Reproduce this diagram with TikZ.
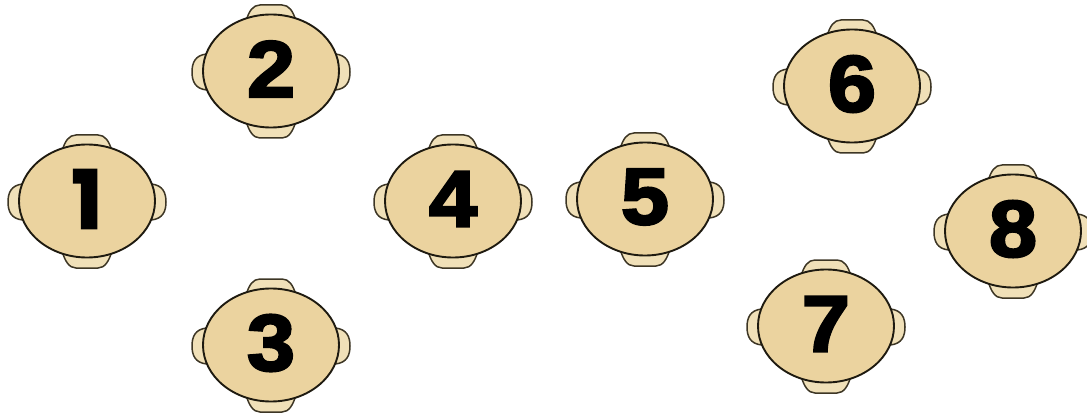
\documentclass[tikz,border=0pt]{standalone}
\usepackage{fontspec}
\usetikzlibrary{shapes.geometric}
\newfontfamily\digitfont[FakeBold=3,FakeStretch=1.08]{Liberation Sans Bold}
\newfontfamily\onefont[FakeBold=3]{Poppins Bold}
\definecolor{wood}{HTML}{EBD39F}
\definecolor{woodear}{HTML}{F0E0B8}
\definecolor{rimline}{HTML}{1E1A10}
\tikzset{
  x=1pt,y=-1pt,
  tabletop/.style={ellipse,draw=rimline,line width=1.9pt,fill=wood,minimum width=136pt,minimum height=113pt,inner sep=0pt},
  digit/.style={font=\digitfont\fontsize{80}{80}\selectfont,text=black,inner sep=0pt},
  ear/.style={draw=rimline!85!wood,line width=1.5pt,fill=woodear,line join=round},
}
\newcommand{\tablepiece}[4]{% name, x, y, number
  \begin{scope}[shift={(#2,#3)}]
    \draw[ear] (-25,-50) .. controls (-22,-60) and (-18,-66) .. (-11,-66) -- (11,-66) .. controls (18,-66) and (22,-60) .. (25,-50) -- cycle;
    \draw[ear] (-25,50) .. controls (-22,60) and (-18,67) .. (-11,67) -- (11,67) .. controls (18,67) and (22,60) .. (25,50) -- cycle;
    \draw[ear] (-64,-17) .. controls (-76,-16) and (-79,-8) .. (-79,1) .. controls (-79,10) and (-76,18) .. (-64,19) -- cycle;
    \draw[ear] (64,-17) .. controls (76,-16) and (79,-8) .. (79,1) .. controls (79,10) and (76,18) .. (64,19) -- cycle;
    \node[tabletop] (#1) at (0,0) {};
    \node[digit] (#1n) at (0,-2) {#4};
  \end{scope}
}
\begin{document}
\begin{tikzpicture}
\useasboundingbox (0,0) rectangle (1087,414);
\tablepiece{t1}{87}{201}{{\onefont 1}}
\tablepiece{t2}{271}{71}{2}
\tablepiece{t3}{271}{345}{3}
\tablepiece{t4}{453}{201}{4}
\tablepiece{t5}{645}{199}{5}
\tablepiece{t6}{852}{86}{6}
\tablepiece{t7}{826}{326}{7}
\tablepiece{t8}{1013}{231}{8}
\end{tikzpicture}
\end{document}
